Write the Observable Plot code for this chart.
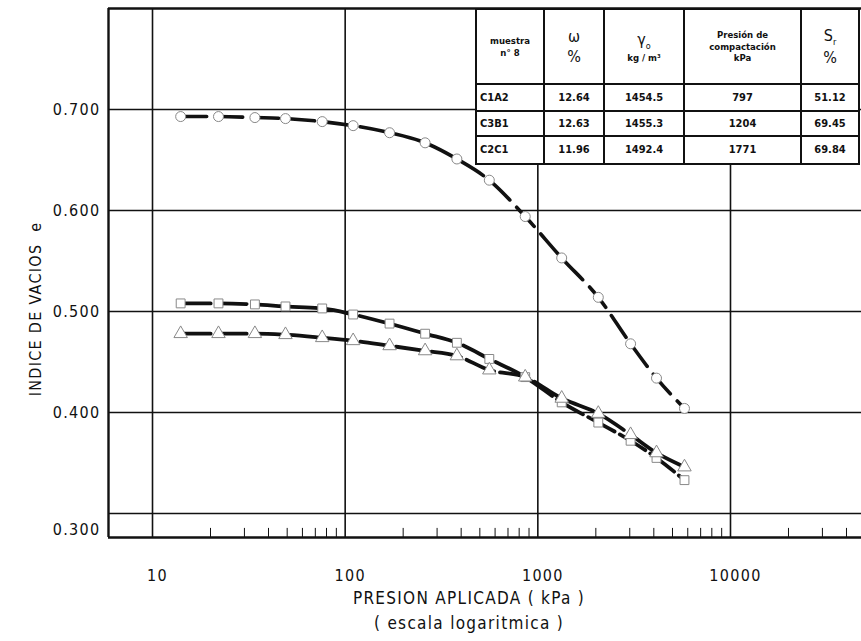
<!DOCTYPE html>
<html>
<head>
<meta charset="utf-8">
<script src="https://cdn.jsdelivr.net/npm/d3@7"></script>
<script src="https://cdn.jsdelivr.net/npm/@observablehq/plot@0.6"></script>
<style>
  html, body { margin: 0; padding: 0; background: #fff; }
  #wrap { position: relative; width: 861px; height: 641px; overflow: hidden; }
  #wrap svg text { letter-spacing: 1.3px; }
  #tbl {
    position: absolute; left: 475px; top: 8px; width: 383px; height: 155px;
    border-collapse: collapse; background: #fff; table-layout: fixed;
    font-family: "DejaVu Sans Condensed", "Liberation Sans Narrow", "DejaVu Sans", sans-serif;
    font-weight: bold; color: #111;
  }
  #tbl td, #tbl th { border: 2px solid #111; padding: 0 3px; text-align: center; line-height: 1.2; }
  #tbl th { font-size: 9.5px; font-weight: bold; }
  #tbl th .big { font-size: 16px; font-weight: normal; }
  #tbl td { font-size: 11px; }
  #tbl td:first-child { text-align: left; }
</style>
</head>
<body>
<div id="wrap"></div>
<script>
// ---- data ----
const pressure = [14, 22, 34, 49, 76, 110, 170, 260, 380, 560, 860, 1330, 2060, 3030, 4130, 5770];
const eCircle   = [0.693, 0.693, 0.692, 0.691, 0.688, 0.684, 0.677, 0.667, 0.651, 0.630, 0.594, 0.553, 0.514, 0.468, 0.434, 0.404];
const eSquare   = [0.508, 0.508, 0.507, 0.505, 0.503, 0.497, 0.488, 0.478, 0.469, 0.453, 0.435, 0.410, 0.390, 0.372, 0.355, 0.333];
const eTriangle = [0.478, 0.478, 0.478, 0.477, 0.474, 0.471, 0.466, 0.461, 0.456, 0.442, 0.435, 0.414, 0.399, 0.378, 0.360, 0.346];

const xTicks = [10, 100, 1000, 10000];
const xMinor = [20, 30, 40, 50, 60, 70, 80, 90, 200, 300, 400, 500, 600, 700, 800, 900,
                2000, 3000, 4000, 5000, 6000, 7000, 8000, 9000, 20000, 30000, 40000];
const yTicks = [0.3, 0.4, 0.5, 0.6, 0.7];

const yLabel = "INDICE DE VACIOS  e";
const xLabel1 = "PRESION APLICADA ( kPa )";
const xLabel2 = "( escala logaritmica )";

// table
const tblHeader = ["muestra<br>n° 8", "<span class='big'>ω</span><br><span class='big'>%</span>",
  "<span class='big'>γ<sub style='font-size:9px'>o</sub></span><br>kg / m³",
  "Presión de<br>compactación<br>kPa", "<span class='big'>S<sub style='font-size:9px'>r</sub></span><br><span class='big'>%</span>"];
const tblSample = ["C1A2", "C3B1", "C2C1"];
const tblW = ["12.64", "12.63", "11.96"];
const tblGamma = ["1454.5", "1455.3", "1492.4"];
const tblPc = ["797", "1204", "1771"];
const tblS = ["51.12", "69.45", "69.84"];

// ---- build ----
const mk = (arr, sym) => pressure.map((p, i) => ({p, e: arr[i], sym}));
const circ = mk(eCircle, "circle"), sq = mk(eSquare, "square"), tri = mk(eTriangle, "triangle");

const font = "'DejaVu Sans Condensed', 'Liberation Sans Narrow', 'DejaVu Sans', sans-serif";
const ink = "#111";
const yMin = 0.2762, yMax = 0.80, xMin = 5.91, xMax = 47860;

const chart = Plot.plot({
  width: 861, height: 641,
  marginLeft: 108, marginRight: 0, marginTop: 8, marginBottom: 104,
  x: {type: "log", domain: [xMin, xMax]},
  y: {domain: [yMin, yMax]},
  style: {fontFamily: font, fontSize: "16px", color: ink, background: "#fff"},
  marks: [
    Plot.gridX({ticks: xTicks, stroke: ink, strokeOpacity: 1, strokeWidth: 1.6}),
    Plot.gridY({ticks: yTicks, stroke: ink, strokeOpacity: 1, strokeWidth: 1.6}),
    Plot.ruleX(xMinor, {y1: yMin, y2: yMin + 0.009, stroke: ink, strokeWidth: 1}),
    Plot.ruleX([xMin], {stroke: ink, strokeWidth: 2.4}),
    Plot.ruleY([yMin], {stroke: ink, strokeWidth: 2.4}),
    Plot.ruleY([yMax], {stroke: ink, strokeWidth: 2.4}),
    Plot.axisY({ticks: [0.4, 0.5, 0.6, 0.7], tickSize: 0, tickPadding: 8, tickFormat: ".3f", label: null, fontSize: 16}),
    Plot.axisY({ticks: [0.3], tickSize: 0, tickPadding: 8, tickFormat: ".3f", label: null, dy: 16, fontSize: 16}),
    Plot.axisX({ticks: xTicks, tickSize: 0, tickPadding: 32, tickFormat: d3.format("d"), label: null, dx: 5, fontSize: 16}),
    Plot.line(circ, {x: "p", y: "e", curve: "monotone-x", stroke: ink, strokeWidth: 3.6, strokeDasharray: "26,10"}),
    Plot.line(sq, {x: "p", y: "e", curve: "monotone-x", stroke: ink, strokeWidth: 3.8, strokeDasharray: "30,6"}),
    Plot.line(tri, {x: "p", y: "e", curve: "monotone-x", stroke: ink, strokeWidth: 3.8, strokeDasharray: "30,6"}),
    Plot.dot([...circ, ...sq, ...tri], {x: "p", y: "e", symbol: "sym", r: 5, fill: "#fff", stroke: "#888", strokeWidth: 1}),
    Plot.text([yLabel], {frameAnchor: "left", textAnchor: "middle", rotate: -90, dx: -73, dy: 36, fontSize: 16}),
    Plot.text([xLabel1], {frameAnchor: "bottom", dx: -16, dy: 66, fontSize: 17}),
    Plot.text([xLabel2], {frameAnchor: "bottom", dx: -16, dy: 91, fontSize: 17})
  ]
});

const wrap = document.getElementById("wrap");
wrap.appendChild(chart);

// table overlay
const tbl = document.createElement("table");
tbl.id = "tbl";
const colW = [68, 60, 80, 117, 58];
const cg = document.createElement("colgroup");
colW.forEach(w => { const c = document.createElement("col"); c.style.width = w + "px"; cg.appendChild(c); });
tbl.appendChild(cg);
const hr = document.createElement("tr");
hr.style.height = "75px";
tblHeader.forEach(h => { const th = document.createElement("th"); th.innerHTML = h; hr.appendChild(th); });
tbl.appendChild(hr);
const rowH = [27, 25, 28];
tblSample.forEach((s, i) => {
  const tr = document.createElement("tr");
  tr.style.height = rowH[i] + "px";
  [s, tblW[i], tblGamma[i], tblPc[i], tblS[i]].forEach(v => {
    const td = document.createElement("td"); td.textContent = v; tr.appendChild(td);
  });
  tbl.appendChild(tr);
});
wrap.appendChild(tbl);
</script>
</body>
</html>
